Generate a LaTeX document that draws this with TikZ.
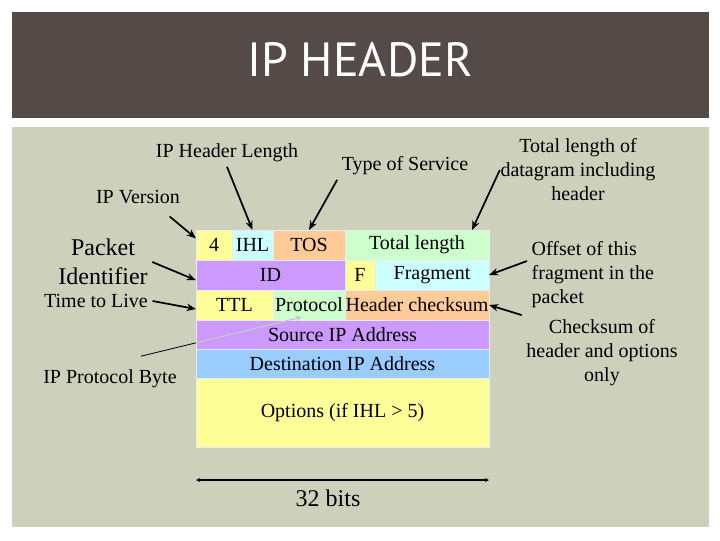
\documentclass[tikz,border=0pt]{standalone}
\usepackage{fontspec}
\setmainfont{Liberation Serif}
\newfontfamily\titlefont{PT Sans}
\usepackage{tikz}
\usetikzlibrary{positioning,arrows.meta,calc}
\definecolor{titlebg}{RGB}{84,75,73}
\definecolor{panelbg}{RGB}{205,209,188}
\definecolor{cyel}{RGB}{255,255,153}
\definecolor{ccyan}{RGB}{204,255,255}
\definecolor{cpeach}{RGB}{255,204,153}
\definecolor{cgreen}{RGB}{204,255,204}
\definecolor{cpurple}{RGB}{204,153,255}
\definecolor{cblue}{RGB}{153,204,255}
\tikzstyle{cell} = [draw=black!8, line width=0.5pt, inner sep=0pt, outer sep=0pt,
    rectangle, minimum height=22.5pt, font=\fontsize{15}{18}\selectfont]
\tikzstyle{lbl} = [font=\fontsize{15}{18}\selectfont, align=center]
\tikzstyle{pointer} = [draw=black, line width=1.3pt, -{Stealth[length=7pt,width=5.5pt]}]

\begin{document}
\begin{tikzpicture}[x=0.75pt, y=-0.75pt]
\useasboundingbox[fill=white] (0,0) rectangle (720,540);
\fill[titlebg] (12,12) rectangle (709,118);
\fill[panelbg] (12,127) rectangle (709,527);
\node[text=white, font=\titlefont\fontsize{36}{40}\selectfont] (title) at (360,60) {IP HEADER};

\node[cell, fill=cyel, minimum width=27pt, anchor=north west] (four) at (196,230) {4};
\node[cell, fill=ccyan, minimum width=30.75pt, right=0pt of four] (ihl) {IHL};
\node[cell, fill=cpeach, minimum width=54pt, right=0pt of ihl] (tos) {TOS};
\node[cell, fill=cgreen, minimum width=108pt, right=0pt of tos] (totlen) {Total length};
\node[cell, fill=cpurple, minimum width=111.75pt, anchor=north west] (id) at (four.south west) {ID};
\node[cell, fill=cyel, minimum width=22.5pt, right=0pt of id] (flag) {F};
\node[cell, fill=ccyan, minimum width=85.5pt, right=0pt of flag] (frag) {Fragment};
\node[cell, fill=cyel, minimum width=57.75pt, anchor=north west] (ttl) at (id.south west) {TTL};
\node[cell, fill=cgreen, minimum width=54pt, right=0pt of ttl] (proto) {Protocol};
\node[cell, fill=cpeach, minimum width=108pt, right=0pt of proto] (hck) {Header checksum};
\node[cell, fill=cpurple, minimum width=219.75pt, minimum height=21.75pt, anchor=north west] (src) at (ttl.south west) {Source IP Address};
\node[cell, fill=cblue, minimum width=219.75pt, minimum height=21.75pt, anchor=north west] (dst) at (src.south west) {Destination IP Address};
\node[cell, fill=cyel, minimum width=219.75pt, minimum height=51.75pt, anchor=north west] (opts) at (dst.south west) {Options (if IHL \textgreater{} 5)};

\node[lbl] (hlenlbl) at (227,153) {IP Header Length};
\node[lbl] (toslbl) at (405,166) {Type of Service};
\node[lbl] (verlbl) at (138,197) {IP Version};
\node[lbl, font=\fontsize{18}{21.75}\selectfont] (pktlbl) at (103,262) {Packet\\Identifier};
\node[lbl] (ttllbl) at (96,301) {Time to Live};
\node[lbl] (protolbl) at (110,379) {IP Protocol Byte};
\node[lbl] (totlbl) at (578,170) {Total length of\\datagram including\\header};
\node[lbl, align=left, anchor=west] (offlbl) at (527,275) {Offset of this\\fragment in the\\packet};
\node[lbl] (cklbl) at (602,353) {Checksum of\\header and options\\only};

\draw[pointer] (hlenlbl.south) -- (ihl.north);
\draw[pointer] (toslbl.south west) -- (tos.north);
\draw[pointer] ([shift={(-15,8)}]verlbl.south east) -- (four.160);
\draw[pointer] (pktlbl.east) -- (id.184);
\draw[pointer] (ttllbl.east) -- (ttl.186);
\draw[pointer] ([shift={(4,0)}]totlbl.west) -- ([shift={(-17,0)}]totlen.north east);
\draw[pointer] (offlbl.168) -- (frag.east);
\draw[pointer] (cklbl.north west) -- (hck.east);

\coordinate (protostart) at ([shift={(31,-9)}]protolbl.north);
\coordinate (protoend) at ([shift={(-7,12)}]proto.center);
\draw[black!22, line width=0.9pt, -{Stealth[length=5pt,width=4pt]}] (protostart) -- (protoend);
\draw[black, line width=0.6pt] (protostart) -- ($(protostart)!0.34!(protoend)$);

\coordinate (bitl) at (196,480);
\coordinate (bitr) at (489,480);
\draw[line width=1.5pt, {Stealth[length=3pt,width=3pt]}-{Stealth[length=3pt,width=3pt]}] (bitl) -- (bitr);
\node[lbl, font=\fontsize{18}{21}\selectfont] (bits) at (328,498) {32 bits};
\end{tikzpicture}
\end{document}
